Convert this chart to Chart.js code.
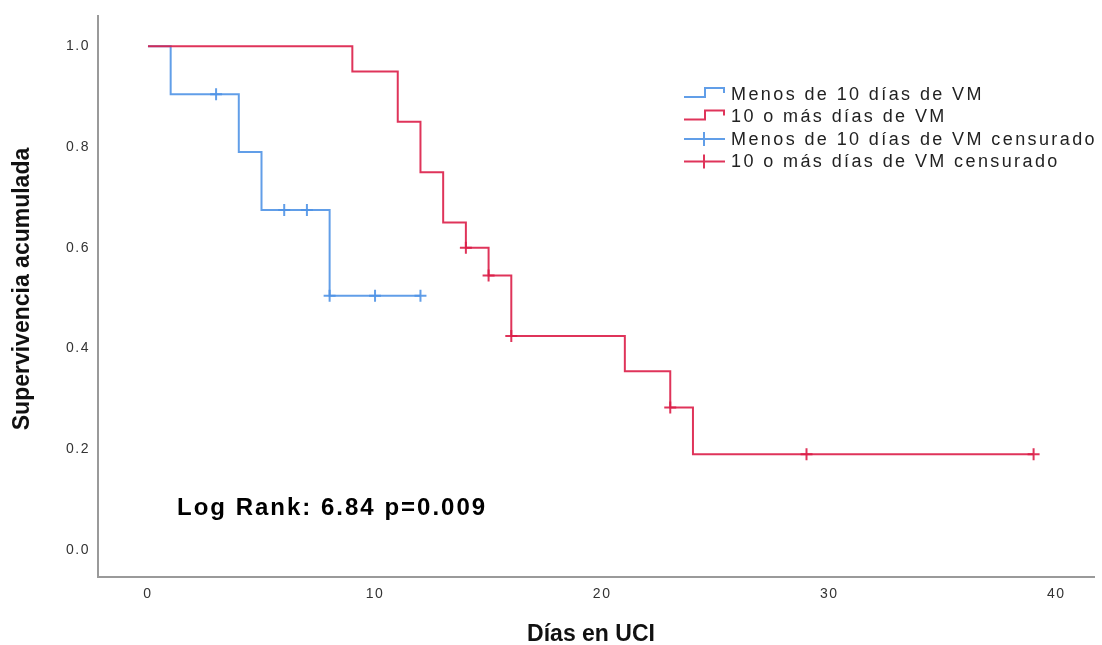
<!DOCTYPE html>
<html lang="es">
<head>
<meta charset="utf-8">
<title>Supervivencia acumulada</title>
<script src="https://cdn.jsdelivr.net/npm/chart.js@4/dist/chart.umd.min.js"></script>
<style>
  html, body { margin: 0; padding: 0; background: #fff; }
  #wrap { width: 1102px; height: 645px; }
</style>
</head>
<body>
<div id="wrap"><canvas id="km" width="1102" height="645"></canvas></div>
<script>
// --- datos ---
const xTicks = [0, 10, 20, 30, 40];
const yTicks = [0, 0.2, 0.4, 0.6, 0.8, 1.0];

// Menos de 10 días de VM
const menosTiempo = [0, 1, 4, 5, 8, 12];
const menosSuperv = [1.0, 0.905, 0.79, 0.675, 0.505, 0.505];
const menosCensT = [3, 6, 7, 8, 10, 12];
const menosCensS = [0.905, 0.675, 0.675, 0.505, 0.505, 0.505];

// 10 o más días de VM
const masTiempo = [0, 9, 11, 12, 13, 14, 15, 16, 21, 23, 24, 39];
const masSuperv = [1.0, 0.95, 0.85, 0.75, 0.65, 0.60, 0.545, 0.425, 0.355, 0.283, 0.19, 0.19];
const masCensT = [14, 15, 16, 23, 29, 39];
const masCensS = [0.60, 0.545, 0.425, 0.283, 0.19, 0.19];

const etiquetas = [
    'Menos de 10 días de VM',
    '10 o más días de VM',
    'Menos de 10 días de VM censurado',
    '10 o más días de VM censurado'
];

const AZUL = 'rgba(80, 148, 230, 0.9)';
const ROJO = 'rgba(220, 30, 72, 0.9)';

const pares = (xs, ys) => xs.map((x, i) => ({ x: x, y: ys[i] }));

// --- plugin: textos (leyenda, títulos, log rank) ---
const textosPlugin = {
    id: 'textos',
    beforeDraw(chart) {
        chart.ctx.letterSpacing = '1.5px';
    },
    afterDraw(chart) {
        const ctx = chart.ctx;
        ctx.save();

        // título eje Y
        ctx.letterSpacing = '0px';
        ctx.fillStyle = '#111';
        ctx.font = 'bold 23px "Liberation Sans", Arial, sans-serif';
        ctx.textAlign = 'center';
        ctx.textBaseline = 'middle';
        ctx.save();
        ctx.translate(23, 289);
        ctx.rotate(-Math.PI / 2);
        ctx.fillText('Supervivencia acumulada', 0, 0);
        ctx.restore();

        // título eje X
        ctx.fillText('Días en UCI', 591, 635);

        // Log Rank
        ctx.letterSpacing = '2px';
        ctx.fillStyle = '#000';
        ctx.font = 'bold 24px "Liberation Sans", Arial, sans-serif';
        ctx.textAlign = 'left';
        ctx.fillText('Log Rank: 6.84 p=0.009', 177, 508);

        // leyenda
        const colores = [AZUL, ROJO, AZUL, ROJO];
        ctx.font = '18px "Liberation Sans", Arial, sans-serif';
        ctx.letterSpacing = '2.4px';
        ctx.textAlign = 'left';
        etiquetas.forEach((txt, i) => {
            const y = 94 + i * 22.5;
            ctx.strokeStyle = colores[i];
            ctx.lineWidth = 2;
            ctx.beginPath();
            if (i < 2) {
                ctx.moveTo(684, y + 3);
                ctx.lineTo(705, y + 3);
                ctx.lineTo(705, y - 6);
                ctx.lineTo(724, y - 6);
                ctx.lineTo(724, y - 1);
            } else {
                ctx.moveTo(684, y);
                ctx.lineTo(725, y);
                ctx.moveTo(704, y - 7);
                ctx.lineTo(704, y + 7);
            }
            ctx.stroke();
            ctx.fillStyle = '#222';
            ctx.fillText(txt, 731, y + 1);
        });

        ctx.restore();
        ctx.letterSpacing = '0px';
    }
};

const fuenteTicks = { family: '"Liberation Sans", Arial, sans-serif', size: 14 };

new Chart(document.getElementById('km'), {
    type: 'scatter',
    data: {
        datasets: [
            { label: etiquetas[3], data: pares(masCensT, masCensS), pointStyle: 'cross', pointRadius: 6,
              borderColor: ROJO, borderWidth: 2, showLine: false },
            { label: etiquetas[2], data: pares(menosCensT, menosCensS), pointStyle: 'cross', pointRadius: 6,
              borderColor: AZUL, borderWidth: 2, showLine: false },
            { label: etiquetas[1], data: pares(masTiempo, masSuperv), showLine: true, stepped: true,
              borderColor: ROJO, borderWidth: 2, pointRadius: 0 },
            { label: etiquetas[0], data: pares(menosTiempo, menosSuperv), showLine: true, stepped: true,
              borderColor: AZUL, borderWidth: 2, pointRadius: 0 }
        ]
    },
    options: {
        responsive: false,
        animation: false,
        layout: { padding: { top: 14, right: 2, left: 0, bottom: 0 } },
        plugins: { legend: { display: false }, tooltip: { enabled: false } },
        scales: {
            x: {
                type: 'linear',
                min: -2.2,
                max: 41.66,
                afterBuildTicks: s => { s.ticks = xTicks.map(v => ({ value: v })); },
                afterFit: s => { s.height = 68; },
                grid: { color: 'rgba(0,0,0,0)', drawTicks: false },
                border: { color: '#9a9a9a', width: 2 },
                ticks: { padding: 9, color: '#333', font: fuenteTicks, maxRotation: 0 }
            },
            y: {
                type: 'linear',
                min: -0.0534,
                max: 1.0593,
                afterBuildTicks: s => { s.ticks = yTicks.map(v => ({ value: v })); },
                afterFit: s => { s.width = 98; },
                grid: { color: 'rgba(0,0,0,0)', drawTicks: false },
                border: { color: '#9a9a9a', width: 2 },
                ticks: { padding: 8, color: '#333', font: fuenteTicks, callback: v => v.toFixed(1) }
            }
        }
    },
    plugins: [textosPlugin]
});
</script>
</body>
</html>
